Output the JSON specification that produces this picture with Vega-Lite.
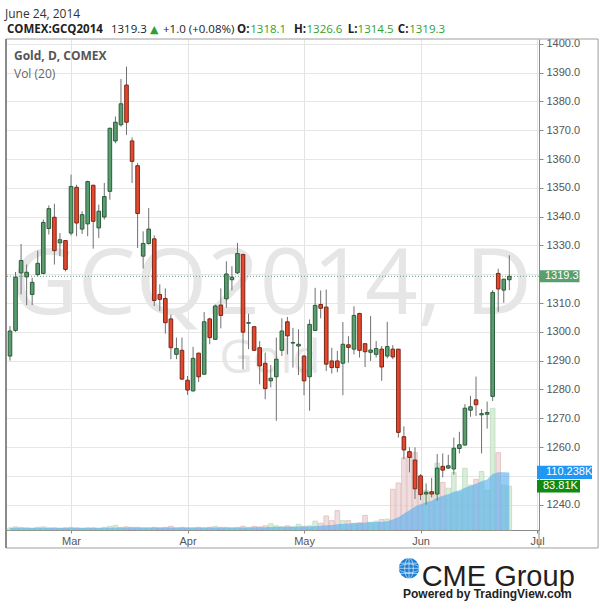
{
"$schema": "https://vega.github.io/schema/vega-lite/v6.json",
"width": 533, "height": 491,
"autosize": "none",
"padding": {"left": 6, "top": 39, "right": 61, "bottom": 72},
"background": "#ffffff",
"config": {"view": {"stroke": null}, "text": {"font": "Open Sans"}},
"data": {"values": [
{"i":0,"d":"2014-02-13","o":1291.6,"h":1302,"l":1290,"c":1300.3,"v":4,"ma":4.3},
{"i":1,"d":"2014-02-14","o":1300.5,"h":1320.8,"l":1300,"c":1319,"v":6,"ma":4.3},
{"i":2,"d":"2014-02-18","o":1320.5,"h":1330.5,"l":1313,"c":1324.8,"v":5,"ma":4.3},
{"i":3,"d":"2014-02-19","o":1319.1,"h":1323.4,"l":1309.3,"c":1320.7,"v":4,"ma":4.3},
{"i":4,"d":"2014-02-20","o":1313,"h":1318.8,"l":1309.3,"c":1317.2,"v":3,"ma":4.3},
{"i":5,"d":"2014-02-21","o":1319.9,"h":1328.2,"l":1319.3,"c":1323.8,"v":5,"ma":4.3},
{"i":6,"d":"2014-02-24","o":1320.3,"h":1339,"l":1320,"c":1338,"v":6,"ma":4.3},
{"i":7,"d":"2014-02-25","o":1335.9,"h":1343.9,"l":1333.8,"c":1342.8,"v":4,"ma":4.3},
{"i":8,"d":"2014-02-26","o":1339.8,"h":1344.5,"l":1323.4,"c":1328.2,"v":4,"ma":4.3},
{"i":9,"d":"2014-02-27","o":1330.9,"h":1334.3,"l":1326.3,"c":1332,"v":3,"ma":4.3},
{"i":10,"d":"2014-02-28","o":1331.7,"h":1331.7,"l":1321,"c":1321.7,"v":4,"ma":4.3},
{"i":11,"d":"2014-03-03","o":1334.3,"h":1354.6,"l":1333.5,"c":1350.5,"v":5,"ma":4.4},
{"i":12,"d":"2014-03-04","o":1350.2,"h":1351.1,"l":1333.2,"c":1337.8,"v":4,"ma":4.4},
{"i":13,"d":"2014-03-05","o":1335.7,"h":1341.9,"l":1334,"c":1340.7,"v":3,"ma":4.4},
{"i":14,"d":"2014-03-06","o":1337.5,"h":1352.5,"l":1333.2,"c":1352.2,"v":4,"ma":4.4},
{"i":15,"d":"2014-03-07","o":1350.9,"h":1351.1,"l":1328.9,"c":1338.4,"v":4,"ma":4.4},
{"i":16,"d":"2014-03-10","o":1336.1,"h":1344.2,"l":1332.6,"c":1341.9,"v":3,"ma":4.4},
{"i":17,"d":"2014-03-11","o":1339.9,"h":1351.7,"l":1339,"c":1347,"v":5,"ma":4.4},
{"i":18,"d":"2014-03-12","o":1348.8,"h":1370.9,"l":1345.9,"c":1370.7,"v":7,"ma":4.5},
{"i":19,"d":"2014-03-13","o":1366.3,"h":1374.8,"l":1365.5,"c":1372.8,"v":9,"ma":4.7},
{"i":20,"d":"2014-03-14","o":1371.9,"h":1387.8,"l":1371.3,"c":1379.2,"v":5,"ma":4.7},
{"i":21,"d":"2014-03-17","o":1385.7,"h":1392.1,"l":1368.4,"c":1372.8,"v":6,"ma":4.8},
{"i":22,"d":"2014-03-18","o":1366.3,"h":1367.5,"l":1351.7,"c":1359.2,"v":5,"ma":4.8},
{"i":23,"d":"2014-03-19","o":1357.7,"h":1358.6,"l":1329.1,"c":1341.1,"v":5,"ma":4.8},
{"i":24,"d":"2014-03-20","o":1326.3,"h":1334.9,"l":1322,"c":1330.7,"v":4,"ma":4.8},
{"i":25,"d":"2014-03-21","o":1330.7,"h":1343,"l":1330.3,"c":1335.7,"v":4,"ma":4.8},
{"i":26,"d":"2014-03-24","o":1332.3,"h":1333.5,"l":1309,"c":1310.9,"v":5,"ma":4.8},
{"i":27,"d":"2014-03-25","o":1313,"h":1316.5,"l":1307.2,"c":1311.3,"v":4,"ma":4.8},
{"i":28,"d":"2014-03-26","o":1311.6,"h":1315.1,"l":1299.4,"c":1303.2,"v":5,"ma":4.9},
{"i":29,"d":"2014-03-27","o":1304.5,"h":1306,"l":1290.5,"c":1294.5,"v":7,"ma":5.0},
{"i":30,"d":"2014-03-28","o":1292.2,"h":1298,"l":1290.5,"c":1294.2,"v":4,"ma":5.0},
{"i":31,"d":"2014-03-31","o":1293.6,"h":1298,"l":1283.3,"c":1283.6,"v":5,"ma":5.0},
{"i":32,"d":"2014-04-01","o":1283.2,"h":1284.7,"l":1278.1,"c":1279.8,"v":4,"ma":5.0},
{"i":33,"d":"2014-04-02","o":1279.5,"h":1294.8,"l":1279.3,"c":1290.8,"v":4,"ma":5.0},
{"i":34,"d":"2014-04-03","o":1292.6,"h":1292.8,"l":1282.6,"c":1284.4,"v":5,"ma":5.0},
{"i":35,"d":"2014-04-04","o":1285.3,"h":1306.9,"l":1285,"c":1303.5,"v":4,"ma":5.0},
{"i":36,"d":"2014-04-07","o":1304.5,"h":1304.9,"l":1295.7,"c":1298,"v":5,"ma":5.0},
{"i":37,"d":"2014-04-08","o":1297.4,"h":1309.5,"l":1297.2,"c":1309,"v":7,"ma":5.0},
{"i":38,"d":"2014-04-09","o":1309.3,"h":1315.1,"l":1301.2,"c":1305.7,"v":5,"ma":4.9},
{"i":39,"d":"2014-04-10","o":1311.5,"h":1324.5,"l":1308.4,"c":1320.1,"v":5,"ma":4.9},
{"i":40,"d":"2014-04-11","o":1318.1,"h":1322.8,"l":1314.4,"c":1319,"v":4,"ma":4.9},
{"i":41,"d":"2014-04-14","o":1320.5,"h":1330.9,"l":1320.1,"c":1327.2,"v":5,"ma":4.9},
{"i":42,"d":"2014-04-15","o":1326.9,"h":1326.9,"l":1287,"c":1299.9,"v":7,"ma":5.0},
{"i":43,"d":"2014-04-16","o":1303.0,"h":1306.3,"l":1294,"c":1303.2,"v":5,"ma":5.0},
{"i":44,"d":"2014-04-17","o":1301.8,"h":1302,"l":1293.4,"c":1293.6,"v":7,"ma":5.1},
{"i":45,"d":"2014-04-21","o":1294.5,"h":1296.8,"l":1281.8,"c":1288.2,"v":6,"ma":5.2},
{"i":46,"d":"2014-04-22","o":1289.1,"h":1292.8,"l":1276.6,"c":1280.3,"v":8,"ma":5.4},
{"i":47,"d":"2014-04-23","o":1283,"h":1288.5,"l":1280.7,"c":1283.9,"v":12,"ma":5.8},
{"i":48,"d":"2014-04-24","o":1284.4,"h":1298,"l":1269.1,"c":1290.5,"v":8,"ma":6.0},
{"i":49,"d":"2014-04-25","o":1293.6,"h":1304.7,"l":1291.6,"c":1300.3,"v":6,"ma":6.1},
{"i":50,"d":"2014-04-28","o":1303.5,"h":1305.2,"l":1292.2,"c":1298.6,"v":8,"ma":6.3},
{"i":51,"d":"2014-04-29","o":1296.1,"h":1301.4,"l":1287.6,"c":1296.3,"v":6,"ma":6.4},
{"i":52,"d":"2014-04-30","o":1295.1,"h":1300.9,"l":1285,"c":1295.7,"v":11,"ma":6.7},
{"i":53,"d":"2014-05-01","o":1291.6,"h":1292,"l":1278,"c":1283,"v":7,"ma":6.8},
{"i":54,"d":"2014-05-02","o":1284.4,"h":1304.3,"l":1272.6,"c":1302.6,"v":8,"ma":6.9},
{"i":55,"d":"2014-05-05","o":1300.5,"h":1315.3,"l":1300.3,"c":1309.2,"v":17,"ma":7.6},
{"i":56,"d":"2014-05-06","o":1309.5,"h":1314.4,"l":1304.7,"c":1308.2,"v":13,"ma":8.0},
{"i":57,"d":"2014-05-07","o":1308.6,"h":1314.7,"l":1286.4,"c":1288.8,"v":27,"ma":9.1},
{"i":58,"d":"2014-05-08","o":1289.9,"h":1294.5,"l":1285.5,"c":1287.6,"v":18,"ma":9.7},
{"i":59,"d":"2014-05-09","o":1289.9,"h":1293.4,"l":1286,"c":1287.6,"v":37,"ma":11.2},
{"i":60,"d":"2014-05-12","o":1289.1,"h":1303.4,"l":1278,"c":1295.7,"v":18,"ma":11.8},
{"i":61,"d":"2014-05-13","o":1295.5,"h":1298.5,"l":1289.3,"c":1294.6,"v":18,"ma":12.5},
{"i":62,"d":"2014-05-14","o":1294,"h":1308.9,"l":1292.2,"c":1305.7,"v":13,"ma":12.8},
{"i":63,"d":"2014-05-15","o":1306.4,"h":1306.6,"l":1291.1,"c":1293.6,"v":14,"ma":13.2},
{"i":64,"d":"2014-05-16","o":1295.9,"h":1295.9,"l":1287.8,"c":1293.1,"v":28,"ma":14.3},
{"i":65,"d":"2014-05-19","o":1292.9,"h":1305.5,"l":1289.9,"c":1293.7,"v":15,"ma":14.8},
{"i":66,"d":"2014-05-20","o":1292.2,"h":1296.8,"l":1291.1,"c":1294.2,"v":17,"ma":15.3},
{"i":67,"d":"2014-05-21","o":1294,"h":1295.1,"l":1283,"c":1287.8,"v":20,"ma":16.0},
{"i":68,"d":"2014-05-22","o":1291.6,"h":1303.5,"l":1290.8,"c":1294.9,"v":21,"ma":16.7},
{"i":69,"d":"2014-05-23","o":1294,"h":1295.4,"l":1290.5,"c":1291.3,"v":78,"ma":20.3},
{"i":70,"d":"2014-05-27","o":1294,"h":1294,"l":1263.3,"c":1265.1,"v":90,"ma":24.5},
{"i":71,"d":"2014-05-28","o":1263.6,"h":1267.2,"l":1255.8,"c":1259,"v":138,"ma":31.1},
{"i":72,"d":"2014-05-29","o":1258.4,"h":1259.9,"l":1251.2,"c":1256.4,"v":142,"ma":37.8},
{"i":73,"d":"2014-05-30","o":1255.5,"h":1259.9,"l":1242,"c":1245.5,"v":148,"ma":44.9},
{"i":74,"d":"2014-06-02","o":1250,"h":1250.6,"l":1241.6,"c":1243.5,"v":99,"ma":49.4},
{"i":75,"d":"2014-06-03","o":1243.7,"h":1247.4,"l":1240,"c":1244.3,"v":76,"ma":52.9},
{"i":76,"d":"2014-06-04","o":1244.5,"h":1249.3,"l":1242.5,"c":1243.7,"v":72,"ma":56.2},
{"i":77,"d":"2014-06-05","o":1243.7,"h":1257.6,"l":1241.4,"c":1252.7,"v":128,"ma":61.7},
{"i":78,"d":"2014-06-06","o":1253.3,"h":1257.8,"l":1249.5,"c":1252,"v":91,"ma":65.4},
{"i":79,"d":"2014-06-09","o":1252.7,"h":1257.3,"l":1252.4,"c":1253.5,"v":80,"ma":68.6},
{"i":80,"d":"2014-06-10","o":1252.4,"h":1263.3,"l":1250.4,"c":1259.6,"v":110,"ma":73.2},
{"i":81,"d":"2014-06-11","o":1259.5,"h":1265.3,"l":1257.8,"c":1260.8,"v":72,"ma":75.9},
{"i":82,"d":"2014-06-12","o":1260.7,"h":1274.9,"l":1260.5,"c":1273.5,"v":118,"ma":81.1},
{"i":83,"d":"2014-06-13","o":1272.8,"h":1277.8,"l":1270.5,"c":1274,"v":86,"ma":84.9},
{"i":84,"d":"2014-06-16","o":1276.4,"h":1284.5,"l":1270.8,"c":1274.7,"v":97,"ma":88.7},
{"i":85,"d":"2014-06-17","o":1271.2,"h":1273.2,"l":1257.8,"c":1271.6,"v":112,"ma":93.4},
{"i":86,"d":"2014-06-18","o":1271.4,"h":1275.8,"l":1266.4,"c":1272,"v":76,"ma":96.6},
{"i":87,"d":"2014-06-19","o":1277.6,"h":1314.5,"l":1276,"c":1313.7,"v":233,"ma":107.2},
{"i":88,"d":"2014-06-20","o":1320.3,"h":1321.9,"l":1307,"c":1314.9,"v":148,"ma":110.7},
{"i":89,"d":"2014-06-23","o":1314.5,"h":1318.4,"l":1310.1,"c":1318.3,"v":86,"ma":110.8},
{"i":90,"d":"2014-06-24","o":1318.1,"h":1326.6,"l":1314.5,"c":1319.3,"v":83.81,"ma":110.238}
]},
"encoding": {
  "x": {"field": "i", "type": "quantitative",
    "scale": {"domain": [-0.72, 95.35], "nice": false, "zero": false, "padding": 0},
    "axis": {"values": [11, 32, 53, 74, 95], "title": null,
      "labelExpr": "datum.value == 11 ? 'Mar' : datum.value == 32 ? 'Apr' : datum.value == 53 ? 'May' : datum.value == 74 ? 'Jun' : 'Jul'",
      "grid": true, "gridColor": "#e4e4e4", "domainColor": "#8a8a8a", "tickColor": "#8a8a8a", "tickSize": 3,
      "labelColor": "#555555", "labelFont": "Liberation Sans", "labelFontSize": 11, "labelPadding": 2}}
},
"layer": [
  {
    "encoding": {"y": {"field": "v", "type": "quantitative", "scale": {"domain": [0, 940], "nice": false, "zero": false, "padding": 0}, "axis": null}},
    "layer": [
      {"mark": {"type": "bar", "width": 4.6, "strokeWidth": 0.8, "opacity": 0.75},
       "encoding": {
         "color": {"condition": {"test": "datum.c >= datum.o", "value": "#cde8cd"}, "value": "#ecd2d2"},
         "stroke": {"condition": {"test": "datum.c >= datum.o", "value": "#a6d4a6"}, "value": "#d6a8a8"}}},
      {"mark": {"type": "area", "color": "#55aef0", "opacity": 0.62},
       "encoding": {"y": {"field": "ma", "type": "quantitative", "scale": {"domain": [0, 940], "nice": false, "zero": false, "padding": 0}, "axis": null}}},
      {"transform": [{"filter": "datum.i == 90"}],
       "mark": {"type": "rect", "color": "#2196f3"},
       "encoding": {
         "x": {"datum": 94.99, "type": "quantitative", "scale": {"domain": [-0.72, 95.35], "nice": false, "zero": false, "padding": 0}},
         "x2": {"datum": 104.9},
         "y": {"datum": 97.44, "type": "quantitative", "scale": {"domain": [0, 940], "nice": false, "zero": false, "padding": 0}, "axis": null},
         "y2": {"datum": 123.04}}},
      {"transform": [{"filter": "datum.i == 90"}],
       "mark": {"type": "rect", "color": "#118a11"},
       "encoding": {
         "x": {"datum": 94.99, "type": "quantitative", "scale": {"domain": [-0.72, 95.35], "nice": false, "zero": false, "padding": 0}},
         "x2": {"datum": 102.74},
         "y": {"datum": 71.9, "type": "quantitative", "scale": {"domain": [0, 940], "nice": false, "zero": false, "padding": 0}, "axis": null},
         "y2": {"datum": 95.7}}},
      {"transform": [{"filter": "datum.i == 90"}],
       "mark": {"type": "text", "text": "110.238K", "color": "#ffffff", "font": "Liberation Sans", "fontSize": 11, "align": "left", "baseline": "middle"},
       "encoding": {
         "x": {"datum": 96.61, "type": "quantitative", "scale": {"domain": [-0.72, 95.35], "nice": false, "zero": false, "padding": 0}},
         "y": {"datum": 110.238, "type": "quantitative", "scale": {"domain": [0, 940], "nice": false, "zero": false, "padding": 0}, "axis": null}}},
      {"transform": [{"filter": "datum.i == 90"}],
       "mark": {"type": "text", "text": "83.81K", "color": "#ffffff", "font": "Liberation Sans", "fontSize": 11, "align": "left", "baseline": "middle"},
       "encoding": {
         "x": {"datum": 96.07, "type": "quantitative", "scale": {"domain": [-0.72, 95.35], "nice": false, "zero": false, "padding": 0}},
         "y": {"datum": 83.81, "type": "quantitative", "scale": {"domain": [0, 940], "nice": false, "zero": false, "padding": 0}, "axis": null}}}
    ]
  },
  {
    "encoding": {"y": {"field": "l", "type": "quantitative",
      "scale": {"domain": [1231.2, 1401.7], "nice": false, "zero": false, "padding": 0},
      "axis": {"orient": "right", "title": null, "values": [1240,1250,1260,1270,1280,1290,1300,1310,1320,1330,1340,1350,1360,1370,1380,1390,1400],
        "format": ".1f", "labelExpr": "datum.value == 1250 || datum.value == 1320 ? '' : datum.label",
        "grid": true, "gridColor": "#e6e6e6", "domainColor": "#8a8a8a", "tickColor": "#8a8a8a", "tickSize": 4,
        "labelColor": "#555555", "labelFont": "Liberation Sans", "labelFontSize": 11, "labelPadding": 3}}},
    "layer": [
      {"transform": [{"filter": "datum.i == 90"}],
       "mark": {"type": "text", "text": "GCQ2014, D", "font": "Open Sans", "fontSize": 92, "color": "#e6e6e6", "align": "center"},
       "encoding": {
         "x": {"datum": 47.13, "type": "quantitative", "scale": {"domain": [-0.72, 95.35], "nice": false, "zero": false, "padding": 0}},
         "y": {"datum": 1316.1, "type": "quantitative", "scale": {"domain": [1231.2, 1401.7], "nice": false, "zero": false, "padding": 0}}}},
      {"transform": [{"filter": "datum.i == 90"}],
       "mark": {"type": "text", "text": "Gold", "font": "Open Sans", "fontSize": 46, "color": "#e6e6e6", "align": "center"},
       "encoding": {
         "x": {"datum": 46.86, "type": "quantitative", "scale": {"domain": [-0.72, 95.35], "nice": false, "zero": false, "padding": 0}},
         "y": {"datum": 1290.6, "type": "quantitative", "scale": {"domain": [1231.2, 1401.7], "nice": false, "zero": false, "padding": 0}}}},
      {"transform": [{"filter": "datum.i == 90"}],
       "mark": {"type": "rule", "color": "#5a9e6f", "strokeDash": [1, 2], "strokeWidth": 1},
       "encoding": {"y": {"datum": 1319.3, "type": "quantitative", "scale": {"domain": [1231.2, 1401.7], "nice": false, "zero": false, "padding": 0}}, "x": null}},
      {"mark": {"type": "rule", "color": "#707070", "strokeWidth": 1},
       "encoding": {"y2": {"field": "h"}}},
      {"mark": {"type": "bar", "width": 3.6, "strokeWidth": 1},
       "encoding": {
         "y": {"field": "o", "type": "quantitative", "scale": {"domain": [1231.2, 1401.7], "nice": false, "zero": false, "padding": 0}},
         "y2": {"field": "c"},
         "color": {"condition": {"test": "datum.c >= datum.o", "value": "#5a9e6f"}, "value": "#e5482d"},
         "stroke": {"condition": {"test": "datum.c >= datum.o", "value": "#2b5c3b"}, "value": "#7a2617"}}},
      {"transform": [{"filter": "datum.i == 90"}],
       "mark": {"type": "rect", "color": "#5a9e6f"},
       "encoding": {
         "x": {"datum": 95.44, "type": "quantitative", "scale": {"domain": [-0.72, 95.35], "nice": false, "zero": false, "padding": 0}},
         "x2": {"datum": 102.65},
         "y": {"datum": 1317.2, "type": "quantitative", "scale": {"domain": [1231.2, 1401.7], "nice": false, "zero": false, "padding": 0}},
         "y2": {"datum": 1321.4}}},
      {"transform": [{"filter": "datum.i == 90"}],
       "mark": {"type": "text", "text": "1319.3", "color": "#ffffff", "font": "Liberation Sans", "fontSize": 11, "align": "left", "baseline": "middle"},
       "encoding": {
         "x": {"datum": 96.43, "type": "quantitative", "scale": {"domain": [-0.72, 95.35], "nice": false, "zero": false, "padding": 0}},
         "y": {"datum": 1319.3, "type": "quantitative", "scale": {"domain": [1231.2, 1401.7], "nice": false, "zero": false, "padding": 0}}}},
      {"transform": [{"filter": "datum.i == 90"}],
       "mark": {"type": "text", "text": "Gold, D, COMEX", "font": "Open Sans", "fontSize": 12, "fontWeight": "bold", "color": "#555555", "align": "left"},
       "encoding": {
         "x": {"datum": 0.72, "type": "quantitative", "scale": {"domain": [-0.72, 95.35], "nice": false, "zero": false, "padding": 0}},
         "y": {"datum": 1395.9, "type": "quantitative", "scale": {"domain": [1231.2, 1401.7], "nice": false, "zero": false, "padding": 0}}}},
      {"transform": [{"filter": "datum.i == 90"}],
       "mark": {"type": "text", "text": "Vol (20)", "font": "Open Sans", "fontSize": 12, "color": "#666666", "align": "left"},
       "encoding": {
         "x": {"datum": 0.72, "type": "quantitative", "scale": {"domain": [-0.72, 95.35], "nice": false, "zero": false, "padding": 0}},
         "y": {"datum": 1389.7, "type": "quantitative", "scale": {"domain": [1231.2, 1401.7], "nice": false, "zero": false, "padding": 0}}}},
      {"transform": [{"filter": "datum.i == 90"}],
       "mark": {"type": "rect", "color": "#ffffff"},
       "encoding": {
         "x": {"datum": 95.5, "type": "quantitative", "scale": {"domain": [-0.72, 95.35], "nice": false, "zero": false, "padding": 0}},
         "x2": {"datum": 106.0},
         "y": {"datum": 1401.7, "type": "quantitative", "scale": {"domain": [1231.2, 1401.7], "nice": false, "zero": false, "padding": 0}},
         "y2": {"datum": 1404.5}}},
      {"transform": [{"filter": "datum.i == 90"}],
       "mark": {"type": "rect", "filled": false, "color": "#9e9e9e", "strokeWidth": 1},
       "encoding": {
         "x": {"datum": -0.72, "type": "quantitative", "scale": {"domain": [-0.72, 95.35], "nice": false, "zero": false, "padding": 0}},
         "x2": {"datum": 106.0},
         "y": {"datum": 1401.7, "type": "quantitative", "scale": {"domain": [1231.2, 1401.7], "nice": false, "zero": false, "padding": 0}},
         "y2": {"datum": 1224.95}}},
      {"transform": [{"filter": "datum.i == 90"}],
       "mark": {"type": "rule", "color": "#8a8a8a", "strokeWidth": 2},
       "encoding": {
         "x": {"datum": -0.72, "type": "quantitative", "scale": {"domain": [-0.72, 95.35], "nice": false, "zero": false, "padding": 0}},
         "y": {"datum": 1401.7, "type": "quantitative", "scale": {"domain": [1231.2, 1401.7], "nice": false, "zero": false, "padding": 0}},
         "y2": {"datum": 1224.95}}},
      {"transform": [{"filter": "datum.i == 90"}],
       "mark": {"type": "rule", "color": "#8a8a8a", "strokeWidth": 1},
       "encoding": {
         "x": {"datum": 95.35, "type": "quantitative", "scale": {"domain": [-0.72, 95.35], "nice": false, "zero": false, "padding": 0}},
         "y": {"datum": 1231.2, "type": "quantitative", "scale": {"domain": [1231.2, 1401.7], "nice": false, "zero": false, "padding": 0}},
         "y2": {"datum": 1224.95}}},
      {"transform": [{"filter": "datum.i == 90"}],
       "mark": {"type": "text", "text": "June 24, 2014", "font": "Open Sans", "fontSize": 12, "color": "#333333", "align": "left"},
       "encoding": {
         "x": {"datum": -0.9, "type": "quantitative", "scale": {"domain": [-0.72, 95.35], "nice": false, "zero": false, "padding": 0}},
         "y": {"datum": 1410.3, "type": "quantitative", "scale": {"domain": [1231.2, 1401.7], "nice": false, "zero": false, "padding": 0}}}},
      {"transform": [{"filter": "datum.i == 90"}],
       "mark": {"type": "text", "text": "COMEX:GCQ2014", "font": "Open Sans", "fontSize": 11.5, "fontWeight": "bold", "color": "#222222", "align": "left"},
       "encoding": {
         "x": {"datum": -0.54, "type": "quantitative", "scale": {"domain": [-0.72, 95.35], "nice": false, "zero": false, "padding": 0}},
         "y": {"datum": 1404.8, "type": "quantitative", "scale": {"domain": [1231.2, 1401.7], "nice": false, "zero": false, "padding": 0}}}},
      {"transform": [{"filter": "datum.i == 90"}],
       "mark": {"type": "text", "text": "1319.3", "font": "Open Sans", "fontSize": 11.5, "color": "#222222", "align": "left"},
       "encoding": {
         "x": {"datum": 18.2, "type": "quantitative", "scale": {"domain": [-0.72, 95.35], "nice": false, "zero": false, "padding": 0}},
         "y": {"datum": 1404.8, "type": "quantitative", "scale": {"domain": [1231.2, 1401.7], "nice": false, "zero": false, "padding": 0}}}},
      {"transform": [{"filter": "datum.i == 90"}],
       "mark": {"type": "text", "text": "▲", "font": "DejaVu Sans", "fontSize": 11, "color": "#2fa12f", "align": "left"},
       "encoding": {
         "x": {"datum": 25.23, "type": "quantitative", "scale": {"domain": [-0.72, 95.35], "nice": false, "zero": false, "padding": 0}},
         "y": {"datum": 1404.8, "type": "quantitative", "scale": {"domain": [1231.2, 1401.7], "nice": false, "zero": false, "padding": 0}}}},
      {"transform": [{"filter": "datum.i == 90"}],
       "mark": {"type": "text", "text": "+1.0 (+0.08%)", "font": "Open Sans", "fontSize": 11.5, "color": "#222222", "align": "left"},
       "encoding": {
         "x": {"datum": 27.58, "type": "quantitative", "scale": {"domain": [-0.72, 95.35], "nice": false, "zero": false, "padding": 0}},
         "y": {"datum": 1404.8, "type": "quantitative", "scale": {"domain": [1231.2, 1401.7], "nice": false, "zero": false, "padding": 0}}}},
      {"transform": [{"filter": "datum.i == 90"}],
       "mark": {"type": "text", "text": "O:", "font": "Open Sans", "fontSize": 11.5, "fontWeight": "bold", "color": "#222222", "align": "left"},
       "encoding": {
         "x": {"datum": 40.92, "type": "quantitative", "scale": {"domain": [-0.72, 95.35], "nice": false, "zero": false, "padding": 0}},
         "y": {"datum": 1404.8, "type": "quantitative", "scale": {"domain": [1231.2, 1401.7], "nice": false, "zero": false, "padding": 0}}}},
      {"transform": [{"filter": "datum.i == 90"}],
       "mark": {"type": "text", "text": "1318.1", "font": "Open Sans", "fontSize": 11.5, "color": "#2fa12f", "align": "left"},
       "encoding": {
         "x": {"datum": 43.3, "type": "quantitative", "scale": {"domain": [-0.72, 95.35], "nice": false, "zero": false, "padding": 0}},
         "y": {"datum": 1404.8, "type": "quantitative", "scale": {"domain": [1231.2, 1401.7], "nice": false, "zero": false, "padding": 0}}}},
      {"transform": [{"filter": "datum.i == 90"}],
       "mark": {"type": "text", "text": "H:", "font": "Open Sans", "fontSize": 11.5, "fontWeight": "bold", "color": "#222222", "align": "left"},
       "encoding": {
         "x": {"datum": 51.19, "type": "quantitative", "scale": {"domain": [-0.72, 95.35], "nice": false, "zero": false, "padding": 0}},
         "y": {"datum": 1404.8, "type": "quantitative", "scale": {"domain": [1231.2, 1401.7], "nice": false, "zero": false, "padding": 0}}}},
      {"transform": [{"filter": "datum.i == 90"}],
       "mark": {"type": "text", "text": "1326.6", "font": "Open Sans", "fontSize": 11.5, "color": "#2fa12f", "align": "left"},
       "encoding": {
         "x": {"datum": 53.45, "type": "quantitative", "scale": {"domain": [-0.72, 95.35], "nice": false, "zero": false, "padding": 0}},
         "y": {"datum": 1404.8, "type": "quantitative", "scale": {"domain": [1231.2, 1401.7], "nice": false, "zero": false, "padding": 0}}}},
      {"transform": [{"filter": "datum.i == 90"}],
       "mark": {"type": "text", "text": "L:", "font": "Open Sans", "fontSize": 11.5, "fontWeight": "bold", "color": "#222222", "align": "left"},
       "encoding": {
         "x": {"datum": 60.9, "type": "quantitative", "scale": {"domain": [-0.72, 95.35], "nice": false, "zero": false, "padding": 0}},
         "y": {"datum": 1404.8, "type": "quantitative", "scale": {"domain": [1231.2, 1401.7], "nice": false, "zero": false, "padding": 0}}}},
      {"transform": [{"filter": "datum.i == 90"}],
       "mark": {"type": "text", "text": "1314.5", "font": "Open Sans", "fontSize": 11.5, "color": "#2fa12f", "align": "left"},
       "encoding": {
         "x": {"datum": 62.65, "type": "quantitative", "scale": {"domain": [-0.72, 95.35], "nice": false, "zero": false, "padding": 0}},
         "y": {"datum": 1404.8, "type": "quantitative", "scale": {"domain": [1231.2, 1401.7], "nice": false, "zero": false, "padding": 0}}}},
      {"transform": [{"filter": "datum.i == 90"}],
       "mark": {"type": "text", "text": "C:", "font": "Open Sans", "fontSize": 11.5, "fontWeight": "bold", "color": "#222222", "align": "left"},
       "encoding": {
         "x": {"datum": 69.9, "type": "quantitative", "scale": {"domain": [-0.72, 95.35], "nice": false, "zero": false, "padding": 0}},
         "y": {"datum": 1404.8, "type": "quantitative", "scale": {"domain": [1231.2, 1401.7], "nice": false, "zero": false, "padding": 0}}}},
      {"transform": [{"filter": "datum.i == 90"}],
       "mark": {"type": "text", "text": "1319.3", "font": "Open Sans", "fontSize": 11.5, "color": "#2fa12f", "align": "left"},
       "encoding": {
         "x": {"datum": 71.95, "type": "quantitative", "scale": {"domain": [-0.72, 95.35], "nice": false, "zero": false, "padding": 0}},
         "y": {"datum": 1404.8, "type": "quantitative", "scale": {"domain": [1231.2, 1401.7], "nice": false, "zero": false, "padding": 0}}}},
      {"transform": [{"filter": "datum.i == 90"}],
       "mark": {"type": "point", "shape": "circle", "filled": true, "size": 420, "color": "#1b7fd4", "opacity": 1},
       "encoding": {
         "x": {"datum": 71.92, "type": "quantitative", "scale": {"domain": [-0.72, 95.35], "nice": false, "zero": false, "padding": 0}},
         "y": {"datum": 1217.9, "type": "quantitative", "scale": {"domain": [1231.2, 1401.7], "nice": false, "zero": false, "padding": 0}}}},
      {"transform": [{"filter": "datum.i == 90"}],
       "mark": {"type": "point", "shape": "M-1,0A1,0.42,0,1,0,1,0A1,0.42,0,1,0,-1,0M0,-1A0.42,1,0,1,0,0,1A0.42,1,0,1,0,0,-1M-1,0L1,0M0,-1L0,1M-0.87,-0.5L0.87,-0.5M-0.87,0.5L0.87,0.5", "filled": false, "size": 420, "color": "#ffffff", "strokeWidth": 0.7, "opacity": 0.85},
       "encoding": {
         "x": {"datum": 71.92, "type": "quantitative", "scale": {"domain": [-0.72, 95.35], "nice": false, "zero": false, "padding": 0}},
         "y": {"datum": 1217.9, "type": "quantitative", "scale": {"domain": [1231.2, 1401.7], "nice": false, "zero": false, "padding": 0}}}},
      {"transform": [{"filter": "datum.i == 90"}],
       "mark": {"type": "text", "text": "CME Group", "font": "Liberation Sans", "fontSize": 29, "color": "#231f20", "align": "left"},
       "encoding": {
         "x": {"datum": 74.2, "type": "quantitative", "scale": {"domain": [-0.72, 95.35], "nice": false, "zero": false, "padding": 0}},
         "y": {"datum": 1214.9, "type": "quantitative", "scale": {"domain": [1231.2, 1401.7], "nice": false, "zero": false, "padding": 0}}}},
      {"transform": [{"filter": "datum.i == 90"}],
       "mark": {"type": "text", "text": "Powered by TradingView.com", "font": "Liberation Sans", "fontSize": 12, "fontWeight": "bold", "color": "#222222", "align": "left"},
       "encoding": {
         "x": {"datum": 70.84, "type": "quantitative", "scale": {"domain": [-0.72, 95.35], "nice": false, "zero": false, "padding": 0}},
         "y": {"datum": 1208.9, "type": "quantitative", "scale": {"domain": [1231.2, 1401.7], "nice": false, "zero": false, "padding": 0}}}}
    ]
  }
],
"resolve": {"scale": {"y": "independent"}, "axis": {"y": "independent"}}
}
